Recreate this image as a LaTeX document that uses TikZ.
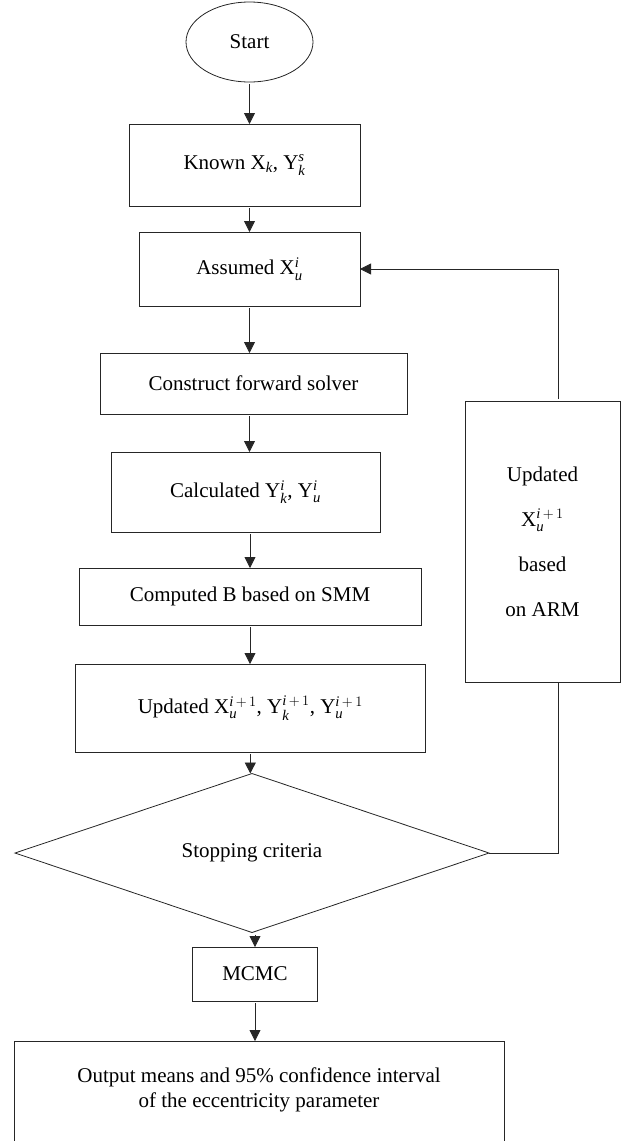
\documentclass[tikz,border=0pt]{standalone}
\usepackage{amsmath}
\usepackage{fontspec}
\setmainfont{Liberation Serif}
\usetikzlibrary{shapes.geometric,arrows.meta}
\tikzset{
  box/.style={draw=black!85,line width=0.8pt,rectangle,inner sep=0pt,outer sep=0pt,
    align=center,font=\fontsize{21}{25.5}\selectfont},
  oval/.style={box,ellipse},
  decide/.style={box,diamond},
  flow/.style={draw=black!85,line width=0.8pt,shorten <=2pt,
    -{Triangle[length=11pt,width=11pt]}},
  wire/.style={draw=black!85,line width=0.8pt}
}
\begin{document}
\begin{tikzpicture}[x=1pt,y=-1pt]
\useasboundingbox (0,0) rectangle (622,1141);
% main column
\node[oval,minimum width=127pt,minimum height=80pt] (start) at (249.5,42) {Start};
\node[box,minimum width=231pt,minimum height=82pt] (known) at (244.5,165)
  {Known $\mathrm{X}_{\textit{k}}$, $\mathrm{Y}_{\textit{k}}^{\textit{s}}$};
\node[box,minimum width=221pt,minimum height=74pt] (assumed) at (249.5,269)
  {Assumed $\mathrm{X}_{\textit{u}}^{\textit{i}}$};
\node[box,minimum width=307pt,minimum height=61pt] (construct) at (253.5,383.5)
  {Construct forward solver};
\node[box,minimum width=269pt,minimum height=80pt] (calc) at (245.5,492)
  {Calculated $\mathrm{Y}_{\textit{k}}^{\textit{i}}$, $\mathrm{Y}_{\textit{u}}^{\textit{i}}$};
\node[box,minimum width=342pt,minimum height=57pt] (computed) at (250,596.5)
  {Computed B based on SMM};
\node[box,minimum width=350pt,minimum height=88pt] (update) at (250.3,708)
  {Updated $\mathrm{X}_{\textit{u}}^{\textit{i}\,+\,1}$, $\mathrm{Y}_{\textit{k}}^{\textit{i}\,+\,1}$, $\mathrm{Y}_{\textit{u}}^{\textit{i}\,+\,1}$};
\node[decide,minimum width=474pt,minimum height=118pt] (crit) at (252,853)
  {Stopping criteria};
\node[box,minimum width=125pt,minimum height=54pt] (mcmc) at (255,974) {MCMC};
\node[box,draw=none,minimum width=490pt,minimum height=98pt] (output) at (259,1090)
  {Output means and 95\% confidence interval\\of the eccentricity parameter};
\draw[wire] ([yshift=-3pt]output.south west) |- (output.north east)
  -- ([yshift=-3pt]output.south east);
% feedback box
\node[box,minimum width=155pt,minimum height=281pt] (arm) at (542.5,541.5)
  {Updated\\[19.5pt]$\mathrm{X}_{\textit{u}}^{\textit{i}\,+\,1}$\\[19.5pt]based\\[19.5pt]on ARM};
% arrows
\draw[flow] (start.south) -- (start.south |- known.north);
\draw[flow] (assumed.north |- known.south) -- (assumed.north);
\draw[flow] (assumed.south) -- (assumed.south |- construct.north);
\draw[flow] (assumed.south |- construct.south) -- (assumed.south |- calc.north);
\draw[flow] (computed.north |- calc.south) -- (computed.north);
\draw[flow] (computed.south) -- (computed.south |- update.north);
\draw[flow] (update.south) -- (update.south |- crit.north);
\draw[flow] (mcmc.north |- crit.south) -- (mcmc.north);
\draw[flow] (mcmc.south) -- (mcmc.south |- output.north);
\draw[wire] (crit.east) -| ([xshift=15.5pt]arm.south);
\draw[flow] ([xshift=15.5pt]arm.north) |- (assumed.east);
\end{tikzpicture}
\end{document}
